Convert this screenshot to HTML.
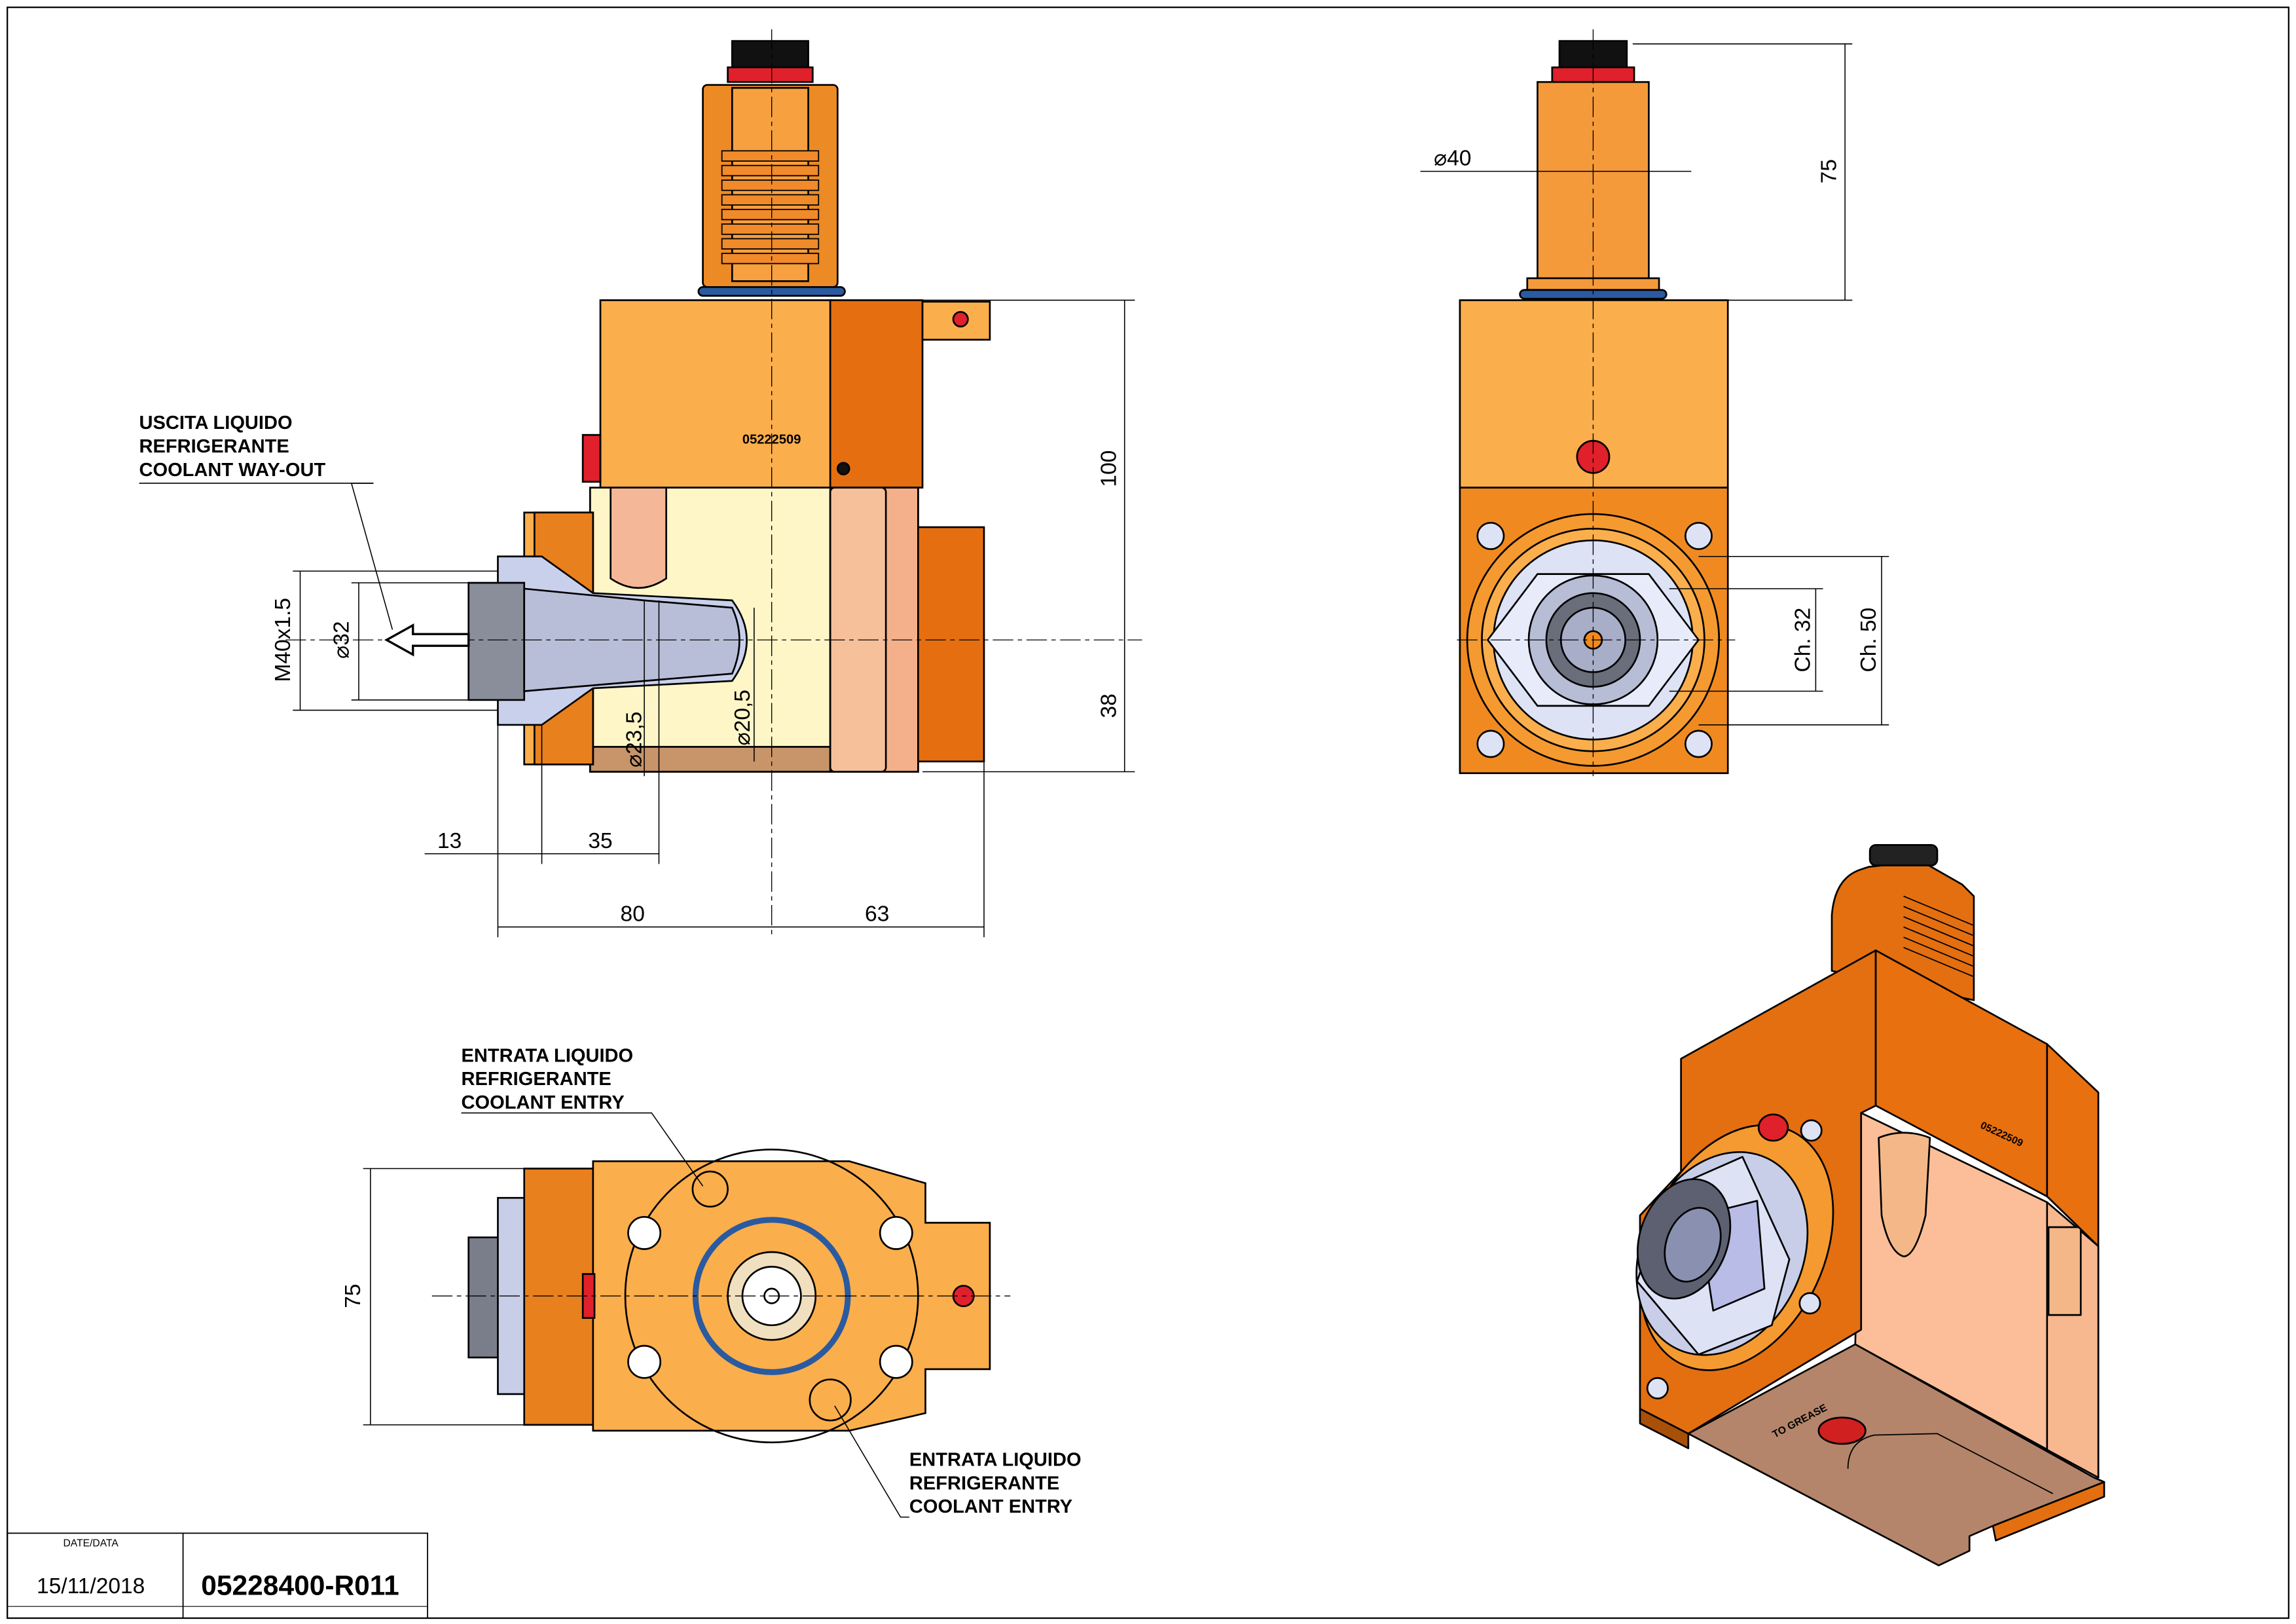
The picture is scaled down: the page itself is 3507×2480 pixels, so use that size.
<!DOCTYPE html>
<html><head><meta charset="utf-8"><style>
html,body{margin:0;padding:0;background:#fff}
svg{display:block}
text{font-family:"Liberation Sans",sans-serif}
</style></head><body>
<svg width="3507" height="2480" viewBox="0 0 1568 1109" preserveAspectRatio="none" xmlns="http://www.w3.org/2000/svg">
<rect x="0" y="0" width="1568" height="1109" fill="#fff"/>
<rect x="5" y="5" width="1558" height="1100" fill="none" stroke="#000" stroke-width="1"/>
<!-- title block -->
<rect x="5" y="1047" width="287" height="58" fill="none" stroke="#000" stroke-width="0.8"/>
<line x1="125" y1="1047" x2="125" y2="1105" stroke="#000" stroke-width="0.8"/>
<line x1="5" y1="1097" x2="292" y2="1097" stroke="#000" stroke-width="0.5"/>
<text x="62" y="1056" font-size="7" text-anchor="middle">DATE/DATA</text>
<text x="62" y="1088" font-size="15" text-anchor="middle">15/11/2018</text>
<text x="205" y="1089" font-size="19" font-weight="bold" text-anchor="middle">05228400-R011</text>

<g stroke="#000" stroke-width="1.2">
<!-- FRONT VIEW -->
<rect x="500" y="28" width="52" height="20" fill="#111"/>
<rect x="497" y="46" width="58" height="10" fill="#e0202a"/>
<rect x="480" y="58" width="92" height="138" fill="#ec8a26" rx="3"/>
<rect x="500" y="60" width="52" height="132" fill="#f7a040"/>
<g fill="#f08a2a" stroke-width="0.8">
<rect x="493" y="103" width="66" height="7"/><rect x="493" y="113" width="66" height="7"/><rect x="493" y="123" width="66" height="7"/><rect x="493" y="133" width="66" height="7"/><rect x="493" y="143" width="66" height="7"/><rect x="493" y="153" width="66" height="7"/><rect x="493" y="163" width="66" height="7"/><rect x="493" y="173" width="66" height="7"/>
</g>
<rect x="477" y="196" width="100" height="6" fill="#2a5aa0" rx="3"/>
<rect x="410" y="205" width="158" height="128" fill="#fbae4c"/>
<rect x="567" y="205" width="63" height="128" fill="#e56f10"/>
<rect x="630" y="206" width="46" height="26" fill="#fbae4c"/>
<circle cx="656" cy="218" r="5" fill="#e0202a"/>
<circle cx="576" cy="320" r="4" fill="#111"/>
<rect x="398" y="297" width="12" height="32" fill="#e0202a"/>
<rect x="403" y="333" width="224" height="194" fill="#fff6c8"/>
<rect x="403" y="510" width="170" height="17" fill="#c8946a"/>
<rect x="567" y="333" width="60" height="194" fill="#f4b08a"/>
<rect x="567" y="333" width="38" height="194" fill="#f6c09a" rx="3"/>
<path d="M417 333 H455 V395 Q436 408 417 395 Z" fill="#f4b898"/>
<rect x="627" y="360" width="45" height="160" fill="#e56f10"/>
<rect x="358" y="350" width="47" height="172" fill="#fbae4c"/>
<rect x="365" y="350" width="40" height="172" fill="#e8801e"/>
<path d="M340 380 H370 L405 405 L500 410 Q520 437 500 465 L405 470 L370 495 H340 Z" fill="#c8d0ec"/>
<path d="M320 398 H358 V478 H320 Z" fill="#8a8e9a"/>
<path d="M358 402 L440 410 L500 415 Q510 437 500 460 L440 465 L358 472 Z" fill="#b8bed8"/>
</g>
<line x1="527" y1="20" x2="527" y2="640" stroke="#000" stroke-width="0.6" stroke-dasharray="14 3 3 3"/>
<line x1="195" y1="437" x2="780" y2="437" stroke="#000" stroke-width="0.6" stroke-dasharray="14 3 3 3"/>
<path d="M320 433 H282 V427 L264 437 L282 447 V441 H320 Z" fill="#fff" stroke="#000" stroke-width="1.5"/>
<g stroke="#000" stroke-width="0.7" fill="none">
<line x1="630" y1="205" x2="775" y2="205"/><line x1="630" y1="527" x2="775" y2="527"/>
<line x1="768" y1="205" x2="768" y2="527"/>
<line x1="200" y1="390" x2="340" y2="390"/><line x1="200" y1="485" x2="340" y2="485"/>
<line x1="205" y1="390" x2="205" y2="485"/>
<line x1="240" y1="398" x2="320" y2="398"/><line x1="240" y1="478" x2="320" y2="478"/>
<line x1="245" y1="398" x2="245" y2="478"/>
<line x1="340" y1="480" x2="340" y2="640"/><line x1="370" y1="495" x2="370" y2="590"/><line x1="450" y1="410" x2="450" y2="590"/>
<line x1="672" y1="520" x2="672" y2="640"/>
<line x1="290" y1="583" x2="450" y2="583"/>
<line x1="340" y1="633" x2="672" y2="633"/>
<line x1="440" y1="410" x2="440" y2="530"/><line x1="515" y1="415" x2="515" y2="520"/>
<path d="M255 330 L240 330 L268 430" />
<line x1="95" y1="330" x2="255" y2="330"/>
</g>
<g font-size="15" fill="#000">
<text x="762" y="320" transform="rotate(-90 762 320)" text-anchor="middle">100</text>
<text x="762" y="482" transform="rotate(-90 762 482)" text-anchor="middle">38</text>
<text x="198" y="437" transform="rotate(-90 198 437)" text-anchor="middle">M40x1.5</text>
<text x="238" y="437" transform="rotate(-90 238 437)" text-anchor="middle">⌀32</text>
<text x="438" y="505" transform="rotate(-90 438 505)" text-anchor="middle">⌀23,5</text>
<text x="512" y="490" transform="rotate(-90 512 490)" text-anchor="middle">⌀20,5</text>
<text x="307" y="579" text-anchor="middle">13</text>
<text x="410" y="579" text-anchor="middle">35</text>
<text x="432" y="629" text-anchor="middle">80</text>
<text x="599" y="629" text-anchor="middle">63</text>
<text x="1254" y="117" transform="rotate(-90 1254 117)" text-anchor="middle">75</text>
<text x="992" y="113" text-anchor="middle">⌀40</text>
<text x="1236" y="437" transform="rotate(-90 1236 437)" text-anchor="middle">Ch. 32</text>
<text x="1281" y="437" transform="rotate(-90 1281 437)" text-anchor="middle">Ch. 50</text>
<text x="246" y="885" transform="rotate(-90 246 885)" text-anchor="middle">75</text>
</g>
<g font-size="13" font-weight="bold" fill="#000">
<text x="95" y="293">USCITA LIQUIDO</text><text x="95" y="309">REFRIGERANTE</text><text x="95" y="325">COOLANT WAY-OUT</text>
<text x="315" y="725">ENTRATA LIQUIDO</text><text x="315" y="741">REFRIGERANTE</text><text x="315" y="757">COOLANT ENTRY</text>
<text x="621" y="1001">ENTRATA LIQUIDO</text><text x="621" y="1017">REFRIGERANTE</text><text x="621" y="1033">COOLANT ENTRY</text>
</g>
<text x="527" y="303" font-size="9" font-weight="bold" text-anchor="middle">05222509</text>

<!-- SIDE VIEW -->
<g stroke="#000" stroke-width="1.2">
<rect x="1065" y="28" width="46" height="20" fill="#111"/>
<rect x="1060" y="46" width="56" height="10" fill="#e0202a"/>
<rect x="1050" y="56" width="76" height="142" fill="#f59a3a"/>
<rect x="1043" y="190" width="90" height="8" fill="#f59a3a"/>
<rect x="1038" y="198" width="100" height="6" fill="#2a5aa0" rx="3"/>
<rect x="997" y="205" width="183" height="128" fill="#fbae4c"/>
<circle cx="1088" cy="312" r="11" fill="#e0202a"/>
<rect x="997" y="333" width="183" height="195" fill="#f08a20"/>
<circle cx="1088" cy="437" r="86" fill="#f59a30"/>
<circle cx="1088" cy="437" r="76" fill="#fbae4c"/>
<circle cx="1088" cy="437" r="68" fill="#dde2f4"/>
<polygon points="1050,392 1126,392 1160,437 1126,482 1050,482 1016,437" fill="#e8ecfa"/>
<circle cx="1088" cy="437" r="44" fill="#b8bdd6"/>
<circle cx="1088" cy="437" r="32" fill="#6a6e7a"/>
<circle cx="1088" cy="437" r="22" fill="#a8aec8"/>
<circle cx="1088" cy="437" r="6" fill="#f08a20"/>
<g fill="#dde2f4"><circle cx="1018" cy="366" r="9"/><circle cx="1160" cy="366" r="9"/><circle cx="1018" cy="508" r="9"/><circle cx="1160" cy="508" r="9"/></g>
</g>
<line x1="1088" y1="20" x2="1088" y2="530" stroke="#000" stroke-width="0.6" stroke-dasharray="14 3 3 3"/>
<line x1="995" y1="437" x2="1185" y2="437" stroke="#000" stroke-width="0.6" stroke-dasharray="14 3 3 3"/>
<g stroke="#000" stroke-width="0.7" fill="none">
<line x1="1115" y1="30" x2="1265" y2="30"/><line x1="1180" y1="205" x2="1265" y2="205"/><line x1="1260" y1="30" x2="1260" y2="205"/>
<line x1="970" y1="117" x2="1155" y2="117"/>
<line x1="1140" y1="402" x2="1245" y2="402"/><line x1="1140" y1="472" x2="1245" y2="472"/><line x1="1240" y1="402" x2="1240" y2="472"/>
<line x1="1160" y1="380" x2="1290" y2="380"/><line x1="1160" y1="495" x2="1290" y2="495"/><line x1="1285" y1="380" x2="1285" y2="495"/>
</g>

<!-- BOTTOM VIEW -->
<g stroke="#000" stroke-width="1.2">
<rect x="320" y="845" width="25" height="82" fill="#7a7e8a"/>
<rect x="340" y="818" width="20" height="134" fill="#c8cee8"/>
<rect x="358" y="798" width="48" height="175" fill="#e8801e"/>
<path d="M405 793 H580 L632 808 V835 H676 V935 H632 V965 L580 977 H405 Z" fill="#fbae4c"/>
<circle cx="527" cy="885" r="100" fill="none"/>
<circle cx="527" cy="885" r="52" fill="none" stroke="#2a5aa0" stroke-width="4"/>
<circle cx="527" cy="885" r="30" fill="#f0e0c0"/>
<circle cx="527" cy="885" r="20" fill="#fff"/>
<circle cx="527" cy="885" r="5" fill="#fff"/>
<circle cx="485" cy="812" r="12" fill="none"/><circle cx="567" cy="956" r="14" fill="none"/>
<g fill="#fff"><circle cx="440" cy="842" r="11"/><circle cx="612" cy="842" r="11"/><circle cx="440" cy="930" r="11"/><circle cx="612" cy="930" r="11"/></g>
<circle cx="658" cy="885" r="7" fill="#e0202a"/>
<rect x="398" y="870" width="8" height="30" fill="#e0202a"/>
</g>
<line x1="295" y1="885" x2="690" y2="885" stroke="#000" stroke-width="0.6" stroke-dasharray="14 3 3 3"/>
<g stroke="#000" stroke-width="0.7" fill="none">
<line x1="248" y1="798" x2="360" y2="798"/><line x1="248" y1="973" x2="360" y2="973"/><line x1="253" y1="798" x2="253" y2="973"/>
<path d="M315 760 H445 L480 810"/>
<path d="M621 1036 H615 L570 960"/>
</g>

<!-- ISO VIEW -->
<g stroke="#000" stroke-width="1.2" stroke-linejoin="round">
<path d="M1251 625 Q1253 600 1270 594 L1276 592 L1312 588 L1340 604 L1348 612 V683 L1251 663 Z" fill="#e36f10"/>
<rect x="1277" y="577" width="46" height="14" fill="#222" rx="4"/>
<g stroke-width="0.8" fill="none"><line x1="1300" y1="612" x2="1348" y2="632"/><line x1="1300" y1="619" x2="1348" y2="639"/><line x1="1300" y1="626" x2="1348" y2="646"/><line x1="1300" y1="633" x2="1348" y2="653"/><line x1="1300" y1="640" x2="1348" y2="660"/><line x1="1300" y1="647" x2="1348" y2="667"/></g>
<polygon points="1361,1042 1437,1012 1437,1022 1363,1052" fill="#e36f10"/>
<polygon points="1120,962 1153,979 1153,989 1120,972" fill="#a85008"/>
<!-- pink face -->
<polygon points="1271,760 1398,821 1433,851 1433,1009 1267,918" fill="#fbbe98"/>
<polygon points="1398,821 1433,851 1433,1009 1398,990" fill="#f7b890"/>
<rect x="1399" y="838" width="22" height="60" fill="#f4b888"/>
<path d="M1283 777 Q1300 770 1318 777 L1315 830 Q1308 858 1300 858 Q1290 855 1285 830 Z" fill="#f4b888"/>
<!-- tan bottom plate -->
<polygon points="1153,979 1267,918 1430,1009 1437,1012 1361,1042 1345,1049 1345,1059 1324,1069" fill="#b4856a"/>
<path d="M1262 1003 Q1262 984 1280 980 L1323 979 L1402 1020" fill="none" stroke-width="0.8"/>
<!-- left face -->
<polygon points="1148,723 1281,649 1281,755 1271,760 1271,908 1153,979 1120,962 1120,830 1148,800" fill="#e36f10"/>
<polygon points="1281,649 1398,713 1398,817 1281,755" fill="#e8700e"/>
<polygon points="1398,713 1433,746 1433,851 1398,817" fill="#e8700e"/>
<!-- flange -->
<ellipse cx="1186" cy="852" rx="60" ry="88" transform="rotate(25 1186 852)" fill="#f59a30"/>
<ellipse cx="1176" cy="856" rx="55" ry="72" transform="rotate(25 1176 856)" fill="#c8cee8"/>
<polygon points="1140,812 1190,790 1222,860 1210,905 1160,925 1118,875" fill="#dde2f4"/>
<polygon points="1160,830 1200,820 1205,880 1170,895" fill="#b8bce6"/>
<ellipse cx="1150" cy="846" rx="30" ry="42" transform="rotate(20 1150 846)" fill="#5c6070"/>
<ellipse cx="1156" cy="850" rx="18" ry="26" transform="rotate(20 1156 850)" fill="#8a90b0"/>
<ellipse cx="1211" cy="770" rx="10" ry="9" fill="#e0202a"/>
<g fill="#dde2f4"><circle cx="1237" cy="772" r="7"/><circle cx="1236" cy="890" r="7"/><circle cx="1132" cy="948" r="7"/></g>
<ellipse cx="1258" cy="977" rx="16" ry="9" fill="#d02020"/>
</g>
<text x="1352" y="770" font-size="7" font-weight="bold" transform="rotate(25 1352 770)">05222509</text>
<text x="1212" y="982" font-size="7" font-weight="bold" transform="rotate(-28 1212 982)">TO GREASE</text>
</svg>
</body></html>
